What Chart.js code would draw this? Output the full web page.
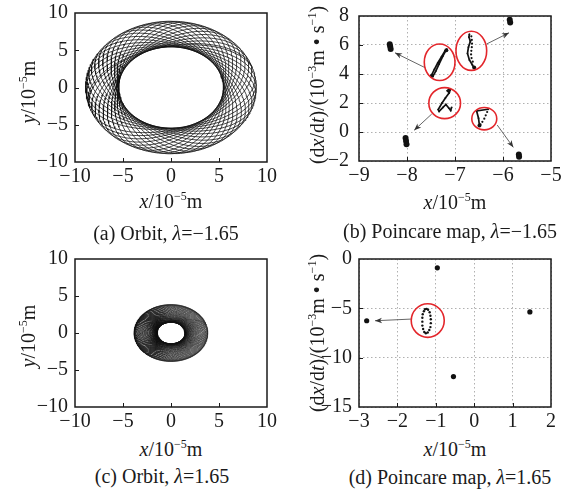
<!DOCTYPE html>
<html>
<head>
<meta charset="utf-8">
<script src="https://cdn.jsdelivr.net/npm/chart.js@4.4.1/dist/chart.umd.min.js"></script>
<style>
  html, body { margin: 0; padding: 0; background: #fff; overflow: hidden; }
  #fig { position: relative; width: 575px; height: 492px; background: #fff;
         font-family: "Liberation Serif", "DejaVu Serif", serif; color: #1a1a1a; overflow: hidden; }
  #fig canvas { position: absolute; }
  .lbl { position: absolute; font-size: 20px; line-height: 1; white-space: nowrap; transform: translate(-50%, -50%); }
  .rot { transform: translate(-50%, -50%) rotate(-90deg); }
  .lbl sup { font-size: 0.6em; vertical-align: 0; position: relative; top: -0.7em; }
</style>
</head>
<body>
<div id="fig">
  <canvas id="cA" width="285" height="201" style="left:0;top:-6px"></canvas>
  <canvas id="cB" width="290" height="201" style="left:285px;top:-6px"></canvas>
  <canvas id="cC" width="285" height="195" style="left:0;top:240px"></canvas>
  <canvas id="cD" width="290" height="195" style="left:285px;top:240px"></canvas>

  <div class="lbl rot" style="left:28px;top:92px"><i>y</i>/10<sup>−5</sup>m</div>
  <div class="lbl" style="left:171px;top:201px"><i>x</i>/10<sup>−5</sup>m</div>
  <div class="lbl" style="left:166px;top:233px">(a) Orbit, <i>λ</i>=−1.65</div>

  <div class="lbl rot" style="left:317px;top:85px">(d<i>x</i>/d<i>t</i>)/(10<sup>−3</sup>m • s<sup>−1</sup>)</div>
  <div class="lbl" style="left:455px;top:202px"><i>x</i>/10<sup>−5</sup>m</div>
  <div class="lbl" style="left:450px;top:231px">(b) Poincare map, <i>λ</i>=−1.65</div>

  <div class="lbl rot" style="left:28px;top:336px"><i>y</i>/10<sup>−5</sup>m</div>
  <div class="lbl" style="left:171px;top:449px"><i>x</i>/10<sup>−5</sup>m</div>
  <div class="lbl" style="left:162px;top:476px">(c) Orbit, <i>λ</i>=1.65</div>

  <div class="lbl rot" style="left:317px;top:333px">(d<i>x</i>/d<i>t</i>)/(10<sup>−3</sup>m • s<sup>−1</sup>)</div>
  <div class="lbl" style="left:455px;top:449px"><i>x</i>/10<sup>−5</sup>m</div>
  <div class="lbl" style="left:450px;top:477px">(d) Poincare map, <i>λ</i>=1.65</div>
</div>
<script>
const FONT = '"Liberation Serif", "DejaVu Serif", serif';

// tick labels
const orbitTicks = [-10, -5, 0, 5, 10];
const bTicksX = [-9, -8, -7, -6, -5];
const bTicksY = [-2, 0, 2, 4, 6, 8];
const dTicksX = [-3, -2, -1, 0, 1, 2];
const dTicksY = [-15, -10, -5, 0];

// orbits (a) and (c): [inner, outer] radius of the ring (1e-5 m) and number of strands
const ringA = [5.45, 8.9];
const ringC = [1.45, 3.85];
const loopsA = 24;
const loopsC = 60;

// (b) Poincare map, lambda = -1.65  (x in 1e-5 m, dx/dt in 1e-3 m/s)
const bPoints = [[-8.36, 6.05], [-8.35, 5.9], [-8.34, 5.72], [-5.86, 7.75], [-5.85, 7.55],
                 [-8.03, -0.42], [-8.02, -0.62], [-8.01, -0.85], [-5.67, -1.56], [-5.665, -1.7]];
const bDense = [[-7.18, 5.64], [-7.48, 3.88], [-6.6, 4.45], [-6.49, 0.45]];
const bCluster1 = [[-7.17, 5.7], [-7.21, 5.58], [-7.28, 5.19], [-7.36, 4.76], [-7.43, 4.32], [-7.49, 3.92],
                   [-7.46, 3.84], [-7.4, 4.2], [-7.33, 4.69], [-7.25, 5.25], [-7.19, 5.62], [-7.17, 5.7]];
const bCluster2 = [[-6.7, 6.75], [-6.71, 6.55], [-6.68, 6.25], [-6.72, 5.85], [-6.74, 5.41],
                   [-6.7, 4.97], [-6.64, 4.64], [-6.6, 4.4]];
const bCluster2Dots = [[-6.66, 6.6], [-6.65, 6.35], [-6.645, 6.1], [-6.65, 5.85], [-6.66, 5.6],
                       [-6.665, 5.35], [-6.655, 5.1], [-6.63, 4.85]];
const bCluster3 = [[-7.12, 2.7], [-7.1, 2.9], [-7.13, 2.95], [-7.16, 2.85], [-7.12, 2.7], [-7.2, 2.35],
                   [-7.27, 2.0], [-7.35, 1.55], [-7.33, 1.42], [-7.25, 1.7], [-7.19, 1.9], [-7.13, 1.65],
                   [-7.09, 1.48], [-7.07, 1.7]];
const bCluster4 = [[-6.31, 1.57], [-6.55, 1.45], [-6.51, 0.95], [-6.49, 0.42]];
const bCluster4Dots = [[-6.33, 1.38], [-6.36, 1.15], [-6.39, 0.92], [-6.43, 0.7], [-6.47, 0.52]];
const bRings = [[-7.32, 4.81, 0.32, 1.26], [-6.66, 5.6, 0.32, 1.35], [-7.215, 1.99, 0.33, 1.07], [-6.39, 0.92, 0.26, 0.77]];
const bArrows = [[-7.62, 4.43, -8.25, 5.46], [-6.34, 6.07, -5.875, 6.84], [-7.485, 1.24, -7.85, 0.12], [-6.12, 0.48, -5.785, -1.06]];

// (d) Poincare map, lambda = 1.65
const dPoints = [[-0.96, -0.89], [1.45, -5.36], [-2.8, -6.26], [-0.54, -11.92]];
const dCluster = [[-1.24, -5.05], [-1.2, -5.15], [-1.16, -5.4], [-1.14, -5.75], [-1.13, -6.1], [-1.13, -6.5],
                  [-1.14, -6.9], [-1.17, -7.2], [-1.21, -7.45], [-1.26, -7.52], [-1.3, -7.4], [-1.33, -7.1],
                  [-1.35, -6.75], [-1.35, -6.35], [-1.35, -5.95], [-1.34, -5.6], [-1.31, -5.3], [-1.28, -5.1]];
const dRings = [[-1.21, -6.24, 0.43, 1.7]];
const dArrows = [[-1.646, -6.09, -2.583, -6.26]];

const xy = arr => arr.map(p => ({ x: p[0], y: p[1] }));

// the orbit fills its ring as a slowly precessing ellipse
function orbitTrace(ring, loops) {
  const a = ring[1], b = ring[0], steps = 197, pts = [];
  for (let k = 0; k <= loops * steps; k++) {
    const t = 2 * Math.PI * k / steps;
    const phi = Math.PI * k / (loops * steps) + 0.3;
    const u = a * Math.cos(t), v = b * Math.sin(t);
    pts.push({ x: u * Math.cos(phi) - v * Math.sin(phi), y: u * Math.sin(phi) + v * Math.cos(phi) });
  }
  return pts;
}

function axis(ticks, fit, pad, grid) {
  return {
    type: 'linear',
    min: ticks[0],
    max: ticks[ticks.length - 1],
    afterBuildTicks: s => { s.ticks = ticks.map(v => ({ value: v })); },
    afterFit: s => { if (s.isHorizontal()) s.height = fit; else s.width = fit; },
    grid: { display: grid, drawTicks: false, color: '#b0b0b0', lineWidth: 1 },
    border: { display: false, dash: [1.5, 2.5] },
    ticks: {
      padding: pad, color: '#1a1a1a', autoSkip: false, maxRotation: 0,
      font: { family: FONT, size: 20 },
      callback: v => String(v).replace('-', '\u2212')
    }
  };
}

// black frame with short inward tick marks on the bottom and left
const framePlugin = {
  id: 'frame',
  afterDatasetsDraw(chart) {
    const { ctx, chartArea: a } = chart;
    const sx = chart.scales.x, sy = chart.scales.y;
    ctx.save();
    ctx.setLineDash([]);
    ctx.strokeStyle = '#1a1a1a';
    ctx.lineWidth = 1.5;
    ctx.strokeRect(a.left, a.top, a.right - a.left, a.bottom - a.top);
    ctx.lineWidth = 1;
    ctx.beginPath();
    sx.ticks.forEach(t => {
      if (t.value === sx.min || t.value === sx.max) return;
      const p = Math.round(sx.getPixelForValue(t.value)) + 0.5;
      ctx.moveTo(p, a.bottom); ctx.lineTo(p, a.bottom - 4);
    });
    sy.ticks.forEach(t => {
      if (t.value === sy.min || t.value === sy.max) return;
      const p = Math.round(sy.getPixelForValue(t.value)) + 0.5;
      ctx.moveTo(a.left, p); ctx.lineTo(a.left + 4, p);
    });
    ctx.stroke();
    ctx.restore();
  }
};

// red rings round the zoomed clusters and arrows to the matching points
function notes(rings, arrows) {
  return {
    id: 'notes',
    afterDatasetsDraw(chart) {
      const ctx = chart.ctx, sx = chart.scales.x, sy = chart.scales.y;
      ctx.save();
      arrows.forEach(([x0, y0, x1, y1]) => {
        const px0 = sx.getPixelForValue(x0), py0 = sy.getPixelForValue(y0);
        const px1 = sx.getPixelForValue(x1), py1 = sy.getPixelForValue(y1);
        const ang = Math.atan2(py1 - py0, px1 - px0);
        ctx.strokeStyle = '#555';
        ctx.lineWidth = 0.9;
        ctx.beginPath(); ctx.moveTo(px0, py0); ctx.lineTo(px1, py1); ctx.stroke();
        ctx.fillStyle = '#333';
        ctx.beginPath();
        ctx.moveTo(px1, py1);
        ctx.lineTo(px1 - 7 * Math.cos(ang) + 2.8 * Math.sin(ang), py1 - 7 * Math.sin(ang) - 2.8 * Math.cos(ang));
        ctx.lineTo(px1 - 5 * Math.cos(ang), py1 - 5 * Math.sin(ang));
        ctx.lineTo(px1 - 7 * Math.cos(ang) - 2.8 * Math.sin(ang), py1 - 7 * Math.sin(ang) + 2.8 * Math.cos(ang));
        ctx.closePath(); ctx.fill();
      });
      rings.forEach(([cx, cy, rx, ry]) => {
        const px = sx.getPixelForValue(cx), py = sy.getPixelForValue(cy);
        const w = Math.abs(sx.getPixelForValue(cx + rx) - px);
        const h = Math.abs(sy.getPixelForValue(cy + ry) - py);
        ctx.strokeStyle = '#e3262b';
        ctx.lineWidth = 1.6;
        ctx.beginPath(); ctx.ellipse(px, py, w, h, 0, 0, Math.PI * 2); ctx.stroke();
      });
      ctx.restore();
    }
  };
}

function panel(id, datasets, sx, sy, pad, extra) {
  return new Chart(document.getElementById(id), {
    type: 'scatter',
    data: { datasets },
    options: {
      responsive: false,
      animation: false,
      events: [],
      layout: { padding: pad },
      plugins: { legend: { display: false }, tooltip: { enabled: false } },
      scales: { x: sx, y: sy }
    },
    plugins: extra ? [framePlugin, extra] : [framePlugin]
  });
}

const orbitLine = (data, w) => ({ data, showLine: true, pointRadius: 0, borderColor: '#111', borderWidth: w });
const dots = (data, r) => ({ data: xy(data), pointRadius: r, pointBorderWidth: 0, backgroundColor: '#111' });
const trace = data => ({ data: xy(data), showLine: true, pointRadius: 0.9, pointBorderWidth: 0,
                          backgroundColor: '#111', borderColor: '#111', borderWidth: 1.7 });

panel('cA', [orbitLine(orbitTrace(ringA, loopsA), 0.8)],
  axis(orbitTicks, 33, 3, false), axis(orbitTicks, 75, 7, false),
  { top: 16, right: 18, left: 0, bottom: 0 });

panel('cB', [dots(bPoints, 3), dots(bDense, 2), trace(bCluster1), trace(bCluster2), dots(bCluster2Dots, 1.1),
             trace(bCluster3), trace(bCluster4), dots(bCluster4Dots, 1.1)],
  axis(bTicksX, 34, 3, true), axis(bTicksY, 74, 10, true),
  { top: 15, right: 24, left: 0, bottom: 0 }, notes(bRings, bArrows));

panel('cC', [orbitLine(orbitTrace(ringC, loopsC), 0.45)],
  axis(orbitTicks, 28, 3, false), axis(orbitTicks, 75, 7, false),
  { top: 16, right: 18, left: 0, bottom: 0 });

panel('cD', [dots(dPoints, 2.6), dots(dCluster, 1.2)],
  axis(dTicksX, 28, 3, true), axis(dTicksY, 74, 7, true),
  { top: 16, right: 24, left: 0, bottom: 0 }, notes(dRings, dArrows));
</script>
</body>
</html>
